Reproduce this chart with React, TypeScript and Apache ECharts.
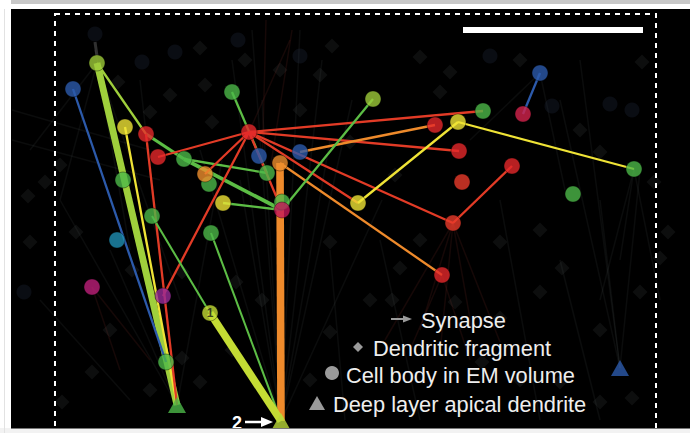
import React, { useEffect, useRef } from "react";
import * as echarts from "echarts";

// ---- data: cells (id, x, y, cell class) in figure units (0..690 x 0..433, y downward)
const NODES: [string, number, number, string][] = [
  ["Nb", 209, 184, "green"],
  ["Qb", 282, 202, "green"],
  ["A", 97, 63, "lime"],
  ["B", 73, 89, "blue"],
  ["C", 125, 127, "yellow"],
  ["D", 146, 134, "red"],
  ["E", 158, 157, "red"],
  ["F", 184, 159, "green"],
  ["G", 123, 180, "green"],
  ["H", 152, 216, "green"],
  ["I", 232, 92, "green"],
  ["J", 249, 132, "red"],
  ["K", 259, 156, "blue"],
  ["L", 300, 152, "blue"],
  ["M", 280, 163, "orange"],
  ["N", 205, 174, "orange"],
  ["O", 267, 173, "green"],
  ["P", 223, 203, "yellow"],
  ["Q", 282, 210, "crimson"],
  ["R", 373, 99, "lime"],
  ["S", 483, 111, "green"],
  ["T", 540, 73, "blue"],
  ["U", 523, 114, "rose"],
  ["V", 435, 125, "red"],
  ["W", 458, 122, "yellow"],
  ["X", 459, 151, "red"],
  ["Y", 462, 182, "red2"],
  ["Z", 512, 166, "red"],
  ["AA", 573, 194, "green"],
  ["AB", 634, 169, "green"],
  ["AC", 358, 203, "yellow"],
  ["AD", 453, 223, "red2"],
  ["AE", 442, 275, "red"],
  ["AF", 211, 233, "green"],
  ["AG", 117, 240, "teal"],
  ["AH", 92, 287, "magenta"],
  ["AI", 163, 296, "purple"],
  ["AJ", 210, 313, "limeY"],
  ["AK", 166, 362, "green"],
  ["AL", 177, 405, "green"],
  ["AM", 281, 421, "limeT"],
  ["AN", 620, 368, "blue"],
];

// deep layer apical dendrites (drawn as triangles)
const APICAL = ["AL", "AM", "AN"];

// numbered cells
const NUMBERED: [string, string][] = [["AJ", "1"]];

// ---- connections: from, to, class, weight (1 thin, 2 medium, 3 strong)
const EDGES: [string, string, string, number][] = [
  ["A", "AL", "lime", 3],
  ["A", "D", "lime", 1],
  ["D", "F", "green", 1.4],
  ["F", "O", "green", 1],
  ["F", "Q", "green", 1.6],
  ["B", "AK", "blue", 1],
  ["C", "AL", "yellow", 1],
  ["D", "AL", "red", 1],
  ["E", "J", "red", 1],
  ["I", "O", "green", 1],
  ["J", "N", "red", 1],
  ["J", "AI", "red", 1],
  ["J", "S", "red", 1],
  ["J", "X", "red", 1],
  ["J", "AD", "red", 1],
  ["J", "AC", "red", 1],
  ["J", "Q", "red", 1],
  ["L", "V", "orange", 1],
  ["M", "AE", "orange", 1],
  ["M", "AM", "orange", 3.3],
  ["R", "Q", "green", 1],
  ["P", "Q", "green", 1],
  ["AC", "W", "yellow", 1],
  ["W", "AB", "yellow", 1],
  ["Z", "AD", "red", 1],
  ["T", "U", "blue", 1],
  ["H", "AJ", "green", 0.9],
  ["AF", "AM", "green", 0.9],
  ["AJ", "AM", "limeY", 3.3],
];

// ---- faint background reconstruction: fragments, somata and stray processes
const BG_DIAMONDS: [number, number][] = [
  [200, 48], [245, 60], [205, 85], [118, 82], [170, 95], [150, 112], [60, 165], [45, 182],
  [28, 196], [212, 122], [320, 75], [332, 46], [420, 57], [450, 72], [440, 92], [420, 240],
  [400, 268], [392, 300], [455, 302], [500, 318], [540, 292], [562, 268], [600, 330],
  [640, 292], [660, 258], [668, 232], [632, 398], [600, 402], [110, 330], [92, 372],
  [150, 390], [182, 358], [200, 382], [232, 350], [132, 270], [182, 272], [236, 282],
  [262, 300], [330, 242], [330, 332], [310, 380], [482, 362], [520, 380], [560, 382],
  [62, 402], [76, 232], [30, 242], [642, 62], [654, 182], [600, 152], [500, 242], [540, 230],
  [370, 300], [350, 142], [280, 70], [300, 110], [395, 175], [520, 60], [580, 130],
];

const BG_SOMAS: [number, number][] = [
  [95, 34], [142, 62], [490, 56], [552, 106], [610, 104], [632, 110], [24, 292], [238, 40],
  [300, 56], [175, 52],
];

const BG_LINES: [number, number, number, number][] = [
  [281, 421, 232, 60], [281, 421, 252, 30], [281, 421, 300, 30], [281, 421, 322, 60],
  [281, 421, 352, 100], [281, 421, 200, 150], [281, 421, 382, 200], [281, 421, 262, 100],
  [281, 421, 330, 140], [281, 421, 240, 180], [177, 405, 95, 50], [177, 405, 60, 200],
  [177, 405, 140, 80], [177, 405, 222, 160], [177, 405, 110, 250], [620, 368, 600, 200],
  [620, 368, 640, 170], [620, 368, 560, 100], [620, 368, 580, 60], [634, 169, 620, 260],
  [634, 169, 660, 300], [634, 169, 600, 300], [97, 63, 60, 200], [97, 63, 130, 250],
  [97, 63, 180, 300], [97, 63, 30, 150], [540, 73, 565, 190], [540, 73, 470, 140],
  [12, 140, 160, 180], [12, 110, 150, 150], [40, 300, 130, 400], [330, 250, 345, 420],
  [380, 240, 420, 420], [500, 200, 540, 420], [560, 260, 600, 420],
];

const BG_RED_LINES: [number, number, number, number][] = [
  [453, 223, 420, 330], [453, 223, 440, 352], [453, 223, 472, 330], [453, 223, 500, 342],
  [453, 223, 385, 340], [442, 275, 410, 350], [442, 275, 470, 360], [266, 20, 262, 170],
  [292, 30, 270, 170], [249, 132, 290, 40], [92, 287, 150, 360], [92, 287, 120, 370],
];

// ---- styles
const COLORS: Record<string, string> = {
  lime: "#9ecb3a",
  limeY: "#c4dc34",
  limeT: "#b9d73a",
  green: "#4cb848",
  red: "#e5282a",
  red2: "#ea3b2a",
  blue: "#2c5aab",
  yellow: "#efe336",
  orange: "#ef8f2d",
  crimson: "#c2175a",
  rose: "#d4234c",
  magenta: "#bd1f79",
  purple: "#982c98",
  teal: "#1f8fb3",
};
const EDGE_COLORS: Record<string, string> = {
  ...COLORS,
  lime: "#9fcf3c",
  green: "#5cbd45",
  orange: "#ee8a2b",
  red: "#e23b26",
};
const FONT = "'Liberation Sans', Arial, Helvetica, sans-serif";

export default function App() {
  const ref = useRef<HTMLDivElement>(null);

  useEffect(() => {
    if (!ref.current) return;
    const chart = echarts.init(ref.current, undefined, { renderer: "svg" });
    const pos: Record<string, [number, number]> = {};
    NODES.forEach(([id, x, y]) => (pos[id] = [x, y]));
    const labelOf: Record<string, string> = {};
    NUMBERED.forEach(([id, t]) => (labelOf[id] = t));

    const edgeData = EDGES.map(([a, b, c, w]) => ({
      coords: [pos[a], pos[b]],
      lineStyle: { color: EDGE_COLORS[c], width: w * 2.3, opacity: 1 },
    }));

    const nodeData = NODES.map(([id, x, y, c]) => {
      const tri = APICAL.includes(id);
      return {
        value: [x, y],
        symbol: tri ? "triangle" : "circle",
        symbolSize: tri ? [18, 16] : 16,
        itemStyle: {
          color: COLORS[c],
          borderColor: "rgba(0,0,0,0.45)",
          borderWidth: tri ? 0 : 1,
        },
        label: labelOf[id]
          ? {
              show: true,
              position: "inside",
              formatter: labelOf[id],
              color: "#1b1b1b",
              fontSize: 12,
              fontWeight: "bold",
              fontFamily: FONT,
            }
          : { show: false },
      };
    });

    const gray = "#9a9a9a";
    const legendText = (x: number, y: number, text: string) => ({
      type: "text",
      z: 100,
      x,
      y,
      style: {
        text,
        fill: "#eeeeee",
        font: `21.8px ${FONT}`,
        textVerticalAlign: "middle",
        textAlign: "left",
      },
    });

    chart.setOption({
      animation: false,
      backgroundColor: "#ffffff",
      grid: { left: 0, right: 0, top: 0, bottom: 0 },
      xAxis: { type: "value", min: 0, max: 690, show: false },
      yAxis: { type: "value", min: 0, max: 433, inverse: true, show: false },
      series: [
        {
          type: "lines",
          coordinateSystem: "cartesian2d",
          silent: true,
          z: 2,
          data: BG_LINES.map(([a, b, c, d]) => ({ coords: [[a, b], [c, d]] })),
          lineStyle: { color: "rgba(150,175,165,0.14)", width: 1.5 },
        },
        {
          type: "lines",
          coordinateSystem: "cartesian2d",
          silent: true,
          z: 2,
          data: BG_RED_LINES.map(([a, b, c, d]) => ({ coords: [[a, b], [c, d]] })),
          lineStyle: { color: "rgba(150,55,45,0.3)", width: 1.5 },
        },
        {
          type: "scatter",
          silent: true,
          z: 2,
          symbol: "diamond",
          symbolSize: 15,
          data: BG_DIAMONDS,
          itemStyle: { color: "rgba(120,135,130,0.13)" },
        },
        {
          type: "scatter",
          silent: true,
          z: 2,
          symbolSize: 15,
          data: BG_SOMAS,
          itemStyle: { color: "rgba(40,55,80,0.3)" },
        },
        {
          type: "lines",
          coordinateSystem: "cartesian2d",
          silent: true,
          z: 3,
          data: [{ coords: [[95, 42], [97, 56]] }],
          lineStyle: { color: "rgba(160,160,160,0.6)", width: 3 },
        },
        {
          type: "lines",
          coordinateSystem: "cartesian2d",
          silent: true,
          z: 4,
          data: edgeData,
        },
        {
          type: "scatter",
          silent: true,
          z: 5,
          data: nodeData,
        },
      ],
      graphic: [
        { type: "rect", z: -10, shape: { x: 11, y: 9, width: 679, height: 419 }, style: { fill: "#000000" } },
        // dashed region outline
        {
          type: "rect",
          z: 90,
          shape: { x: 55, y: 14, width: 601, height: 440 },
          style: { fill: "none", stroke: "#ffffff", lineWidth: 2, lineDash: [5, 5] },
        },
        // scale bar
        { type: "rect", z: 90, shape: { x: 463, y: 27, width: 180, height: 6 }, style: { fill: "#ffffff" } },
        // legend
        { type: "line", z: 100, shape: { x1: 391, y1: 319, x2: 405, y2: 319 }, style: { stroke: gray, lineWidth: 2 } },
        { type: "polygon", z: 100, shape: { points: [[403, 315.5], [412, 319], [403, 322.5]] }, style: { fill: gray } },
        { type: "polygon", z: 100, shape: { points: [[358, 342], [363, 347], [358, 352], [353, 347]] }, style: { fill: gray } },
        { type: "circle", z: 100, shape: { cx: 332, cy: 373, r: 7 }, style: { fill: gray } },
        { type: "polygon", z: 100, shape: { points: [[317, 396], [325, 410], [309, 410]] }, style: { fill: gray } },
        legendText(421, 320, "Synapse"),
        legendText(373, 348, "Dendritic fragment"),
        legendText(346, 375, "Cell body in EM volume"),
        legendText(333, 404, "Deep layer apical dendrite"),
        // "2 →" marker
        {
          type: "text",
          z: 100,
          x: 232,
          y: 423,
          style: { text: "2", fill: "#ffffff", font: `bold 18px ${FONT}`, textVerticalAlign: "middle" },
        },
        { type: "line", z: 100, shape: { x1: 245, y1: 422, x2: 264, y2: 422 }, style: { stroke: "#ffffff", lineWidth: 2.5 } },
        { type: "polygon", z: 100, shape: { points: [[261, 417], [273, 422], [261, 427]] }, style: { fill: "#ffffff" } },
        // page frame around the panel
        { type: "rect", z: 200, shape: { x: 0, y: 0, width: 690, height: 9 }, style: { fill: "#ffffff" } },
        { type: "rect", z: 200, shape: { x: 0, y: 0, width: 690, height: 4 }, style: { fill: "#c8c8c8" } },
        { type: "rect", z: 200, shape: { x: 0, y: 0, width: 11, height: 433 }, style: { fill: "#ffffff" } },
        { type: "line", z: 201, shape: { x1: 4.5, y1: 9, x2: 4.5, y2: 433 }, style: { stroke: "#e2e2e2", lineWidth: 1 } },
        { type: "rect", z: 200, shape: { x: 0, y: 428, width: 690, height: 5 }, style: { fill: "#f2f2f2" } },
        { type: "line", z: 201, shape: { x1: 11, y1: 428.5, x2: 690, y2: 428.5 }, style: { stroke: "#777777", lineWidth: 1 } },
      ],
    });

    return () => chart.dispose();
  }, []);

  return (
    <div
      ref={ref}
      style={{ position: "fixed", left: 0, top: 0, width: 690, height: 433 }}
    />
  );
}
